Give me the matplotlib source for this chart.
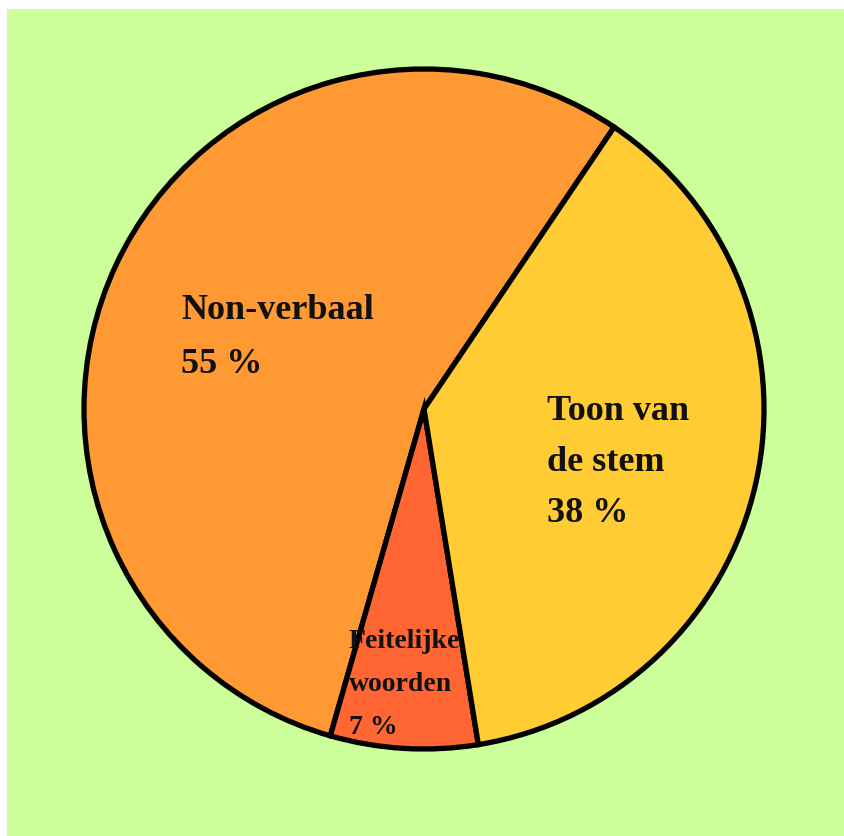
import matplotlib.pyplot as plt

labels = [["Non-verbaal", "55 %"], ["Feitelijke", "woorden", "7 %"], ["Toon van", "de stem", "38 %"]]
values = [55, 7, 38]
colors = ["#FF9933", "#FF6633", "#FFCC33"]

W, H = 844, 837
fig = plt.figure(figsize=(W / 100, H / 100), dpi=100)
fig.patch.set_facecolor("white")

# green panel (white margin on top and left)
bg = fig.add_axes([7 / W, 0, 1 - 7 / W, 1 - 10 / H], zorder=0)
bg.set_facecolor("#CCFF99")
bg.set_xticks([])
bg.set_yticks([])
for s in bg.spines.values():
    s.set_visible(False)

cx, cy, r = 424, 410, 340
ax = fig.add_axes([(cx - r) / W, (H - cy - r) / H, 2 * r / W, 2 * r / H], zorder=1)
ax.pie(values, colors=colors, startangle=56, counterclock=True, radius=1,
       wedgeprops=dict(edgecolor="black", linewidth=3.8))
ax.set_xlim(-1, 1)
ax.set_ylim(-1, 1)
ax.set_aspect("equal")
ax.axis("off")

def px(x, y):
    return (x - cx) / r, (cy - y) / r

# label placement: left x, first baseline, line step, fontsize
spots = [(181, 319, 54, 26), (349, 648, 43, 20), (547, 420, 51, 26)]
for lines, (x0, y0, step, fs) in zip(labels, spots):
    for i, line in enumerate(lines):
        tx, ty = px(x0, y0 + i * step)
        ax.text(tx, ty, line, ha="left", va="baseline", fontsize=fs,
                fontweight="bold", family="Liberation Serif", color="#111111")

fig.savefig("out.png", dpi=100)
